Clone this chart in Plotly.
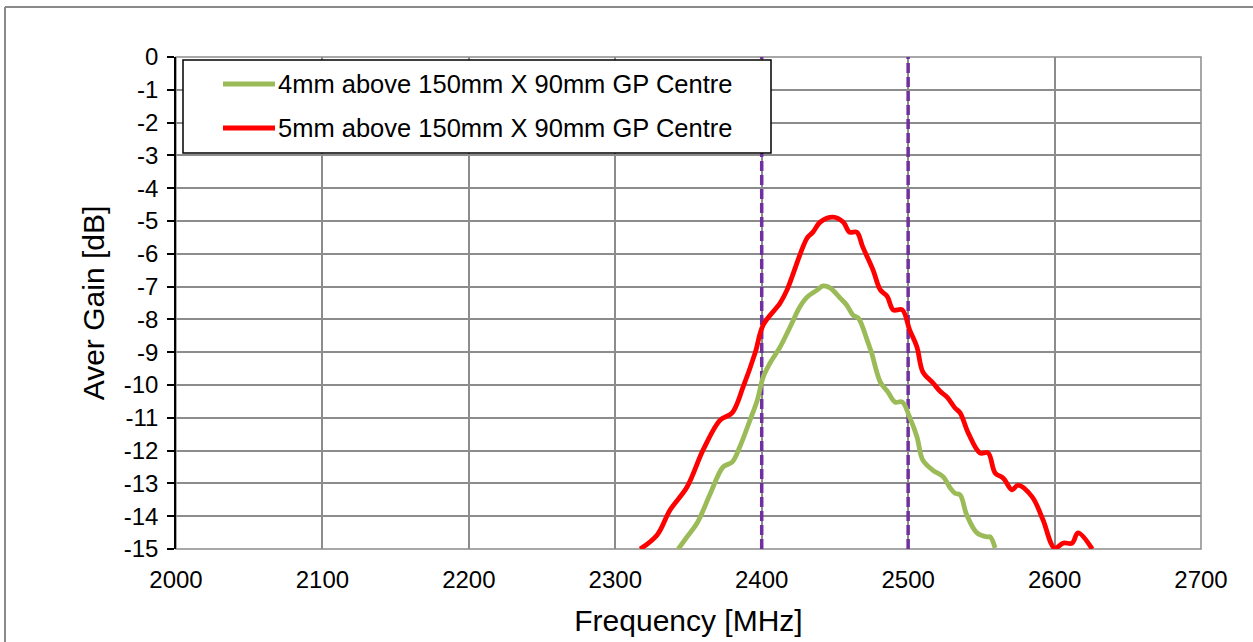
import plotly.graph_objects as go

# ---- data ----
freq_4mm = [2343, 2349, 2356, 2365, 2373.6, 2379.8, 2385, 2392, 2397, 2401, 2405.7, 2412.6, 2419.4,
            2426, 2431, 2438, 2442, 2446.7, 2453.6, 2458, 2462.4, 2466, 2472, 2475, 2481, 2486, 2491,
            2496, 2501, 2506, 2510, 2517, 2524, 2528.7, 2532, 2535.5, 2540, 2547, 2554, 2556, 2559.4]
gain_4mm = [-15, -14.63, -14.2, -13.3, -12.5, -12.35, -11.89, -11.07, -10.46, -9.76, -9.33, -8.84, -8.23,
            -7.62, -7.32, -7.1, -6.98, -7.04, -7.35, -7.56, -7.87, -7.96, -8.63, -9.02, -9.91, -10.2, -10.52,
            -10.52, -10.98, -11.58, -12.29, -12.6, -12.8, -13.14, -13.3, -13.35, -13.96, -14.51, -14.63, -14.63, -14.97]

freq_5mm = [2317, 2328.6, 2337.4, 2349, 2360, 2371.6, 2379.8, 2387.3, 2395.5, 2401, 2412.6, 2417.3, 2431,
            2435, 2440, 2448.8, 2455.6, 2460, 2465, 2469, 2476, 2481, 2485.7, 2489.8, 2496, 2501, 2506,
            2510, 2517, 2522, 2526.6, 2532, 2535.5, 2541, 2549, 2554.6, 2559.4, 2565, 2571, 2575, 2584.7,
            2592, 2600, 2606, 2612, 2616, 2625.7]
gain_5mm = [-15, -14.57, -13.81, -13.11, -11.98, -11.07, -10.85, -10.06, -9.02, -8.17, -7.5, -7.1, -5.52,
            -5.34, -5.03, -4.88, -5.03, -5.34, -5.34, -5.79, -6.49, -7.1, -7.3, -7.71, -7.71, -8.32, -8.84,
            -9.6, -9.94, -10.2, -10.37, -10.7, -10.85, -11.46, -12.07, -12.07, -12.68, -12.84, -13.2, -13.05, -13.41,
            -14.1, -14.97, -14.82, -14.82, -14.51, -15]

band_edges = [2400, 2500]
series_names = ["4mm above 150mm X 90mm GP Centre", "5mm above 150mm X 90mm GP Centre"]
x_ticks = [2000, 2100, 2200, 2300, 2400, 2500, 2600, 2700]
y_ticks = list(range(0, -16, -1))
y_tick_labels = [str(v) for v in y_ticks]
x_range = [2000, 2700]
y_range = [-15, 0]

# ---- style ----
GREEN = "#9BBB59"
RED = "#FF0000"
PURPLE = "#7030A0"
GRID = "#8C8C8C"
FONT = "Liberation Sans, Arial, sans-serif"

W, H = 1253, 642
L, R, T, B = 176, 52, 57, 93
PW, PH = W - L - R, H - T - B

def px_x(p):
    return (p - L) / PW

def px_y(p):
    return 1 - (p - T) / PH

fig = go.Figure()

for xe in band_edges:
    fig.add_trace(go.Scatter(x=[xe, xe], y=y_range, mode="lines", showlegend=False,
                             line=dict(color=PURPLE, width=3.5, dash="10px,4px"), hoverinfo="skip"))

fig.add_trace(go.Scatter(x=freq_4mm, y=gain_4mm, mode="lines", name=series_names[0], showlegend=False,
                         line=dict(color=GREEN, width=4.8, shape="spline", smoothing=1.0)))
fig.add_trace(go.Scatter(x=freq_5mm, y=gain_5mm, mode="lines", name=series_names[1], showlegend=False,
                         line=dict(color=RED, width=4.8, shape="spline", smoothing=1.0)))

shapes = [
    # plot area border (gray)
    dict(type="rect", xref="paper", yref="paper", x0=0, x1=1, y0=0, y1=1,
         line=dict(color=GRID, width=1.5), layer="below"),
    # outer chart border (top and left visible)
    dict(type="line", xref="paper", yref="paper", x0=px_x(5), x1=px_x(1260), y0=px_y(7), y1=px_y(7),
         line=dict(color="#8A8A8A", width=2)),
    dict(type="line", xref="paper", yref="paper", x0=px_x(5), x1=px_x(5), y0=px_y(7), y1=px_y(660),
         line=dict(color="#8A8A8A", width=2)),
    # legend box
    dict(type="rect", xref="paper", yref="paper", x0=px_x(183), x1=px_x(771), y0=px_y(153), y1=px_y(60),
         line=dict(color="black", width=1.5), fillcolor="white", layer="above"),
]
annotations = []
legend_rows = [(84, GREEN, series_names[0]), (128, RED, series_names[1])]
for ypx, col, name in legend_rows:
    shapes.append(dict(type="line", xref="paper", yref="paper", x0=px_x(223), x1=px_x(275),
                       y0=px_y(ypx), y1=px_y(ypx), line=dict(color=col, width=4.8), layer="above"))
    annotations.append(dict(xref="paper", yref="paper", x=px_x(276), y=px_y(ypx), text=name,
                            showarrow=False, xanchor="left", yanchor="middle",
                            font=dict(family=FONT, size=25.5, color="black")))

fig.update_layout(
    width=W, height=H,
    margin=dict(l=L, r=R, t=T, b=B, pad=0),
    paper_bgcolor="white", plot_bgcolor="white",
    font=dict(family=FONT, size=24, color="black"),
    shapes=shapes, annotations=annotations,
    showlegend=False,
    xaxis=dict(range=x_range, tickvals=x_ticks, showgrid=True, gridcolor=GRID, gridwidth=1.5,
               zeroline=False, showline=False, ticks="", ticklabelstandoff=14,
               tickfont=dict(family=FONT, size=24, color="black"),
               title=dict(text="Frequency [MHz]", font=dict(family=FONT, size=30, color="black"), standoff=17)),
    yaxis=dict(range=y_range, tickvals=y_ticks, ticktext=y_tick_labels, showgrid=True, gridcolor=GRID,
               gridwidth=1.5, zeroline=False, showline=True, linecolor="black", linewidth=1.5,
               ticks="outside", ticklen=7, tickwidth=1.5, tickcolor="black", ticklabelstandoff=4,
               tickfont=dict(family=FONT, size=24, color="black"),
               title=dict(text="Aver Gain [dB]", font=dict(family=FONT, size=30, color="black"), standoff=10)),
)

fig.write_html("out.html", config={"displayModeBar": False},
               post_script="document.body.style.margin='0';")
